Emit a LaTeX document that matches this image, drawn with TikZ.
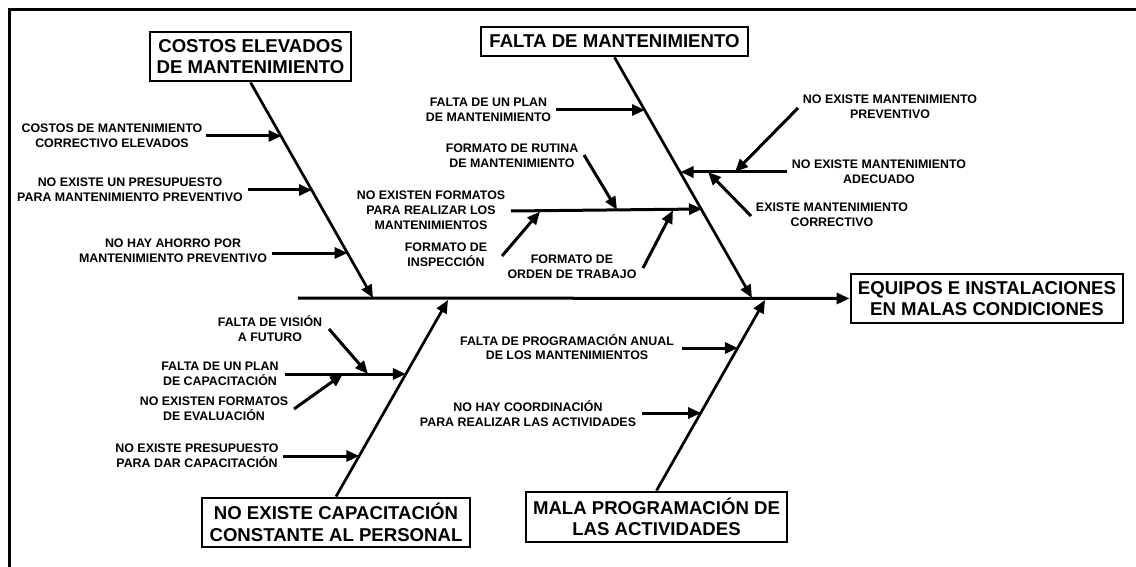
\documentclass[tikz,border=0pt]{standalone}
\usepackage{fontspec}
\setmainfont{Liberation Sans}
\usetikzlibrary{arrows.meta}
\begin{document}
\begin{tikzpicture}[x=1pt,y=-1pt,
  box/.style={draw,line width=2.8pt,inner sep=0pt,align=center,font=\fontsize{18.6}{21.5}\selectfont\bfseries},
  lbl/.style={inner sep=0pt,align=center,font=\fontsize{12.4}{14.8}\selectfont\bfseries},
  bone/.style={line width=2.7pt,-{Triangle[length=13pt,width=11pt]}},
  sub/.style={line width=3pt,-{Triangle[length=13pt,width=11pt]}},
  frame/.style={line width=2.8pt}]
\useasboundingbox (0,0) rectangle (1136,567);
\fill[white] (0,0) rectangle (1136,567);
% frame
\coordinate (f1) at (9.3,567);
\coordinate (f2) at (9.3,9.3);
\coordinate (f3) at (1136,9.3);
\draw[frame] (f1) -- (f2) -- (f3);

% boxes
\node[box,minimum width=201pt,minimum height=49pt] (c1) at (250.5,56.5) {COSTOS ELEVADOS\\DE MANTENIMIENTO};
\node[box,minimum width=267pt,minimum height=29pt] (c2) at (614.5,41.5) {FALTA DE MANTENIMIENTO};
\node[box,minimum width=272pt,minimum height=49pt] (eff) at (987,298.5) {EQUIPOS E INSTALACIONES\\EN MALAS CONDICIONES};
\node[box,minimum width=268pt,minimum height=49pt] (c3) at (336,522.5) {NO EXISTE CAPACITACIÓN\\CONSTANTE AL PERSONAL};
\node[box,minimum width=261pt,minimum height=50pt] (c4) at (656.5,517) {MALA PROGRAMACIÓN DE\\LAS ACTIVIDADES};

% spine and bones
\coordinate (s0) at (298,298);
\draw[bone,line width=3pt] (s0) -- (eff.west);
\coordinate (t1) at (373,298);
\coordinate (t2) at (752,298);
\coordinate (t3) at (448,300);
\coordinate (t4) at (765,300);
\draw[bone] (c1.south) -- (t1);
\draw[bone] (c2.south) -- (t2);
\draw[bone] (c3.north) -- (t3);
\draw[bone] (c4.north) -- (t4);

% labels
\node[lbl] (l1) at (112,135.5) {COSTOS DE MANTENIMIENTO\\CORRECTIVO ELEVADOS};
\node[lbl] (l2) at (130,190) {NO EXISTE UN PRESUPUESTO\\PARA MANTENIMIENTO PREVENTIVO};
\node[lbl] (l3) at (173,250.5) {NO HAY AHORRO POR\\MANTENIMIENTO PREVENTIVO};
\node[lbl] (l4) at (488.5,110) {FALTA DE UN PLAN\\DE MANTENIMIENTO};
\node[lbl] (l5) at (512,155.5) {FORMATO DE RUTINA\\DE MANTENIMIENTO};
\node[lbl] (l6) at (431,210.5) {NO EXISTEN FORMATOS\\PARA REALIZAR LOS\\MANTENIMIENTOS};
\node[lbl] (l7) at (446,254.5) {FORMATO DE\\INSPECCIÓN};
\node[lbl] (l8) at (572,266.5) {FORMATO DE\\ORDEN DE TRABAJO};
\node[lbl] (l9) at (890,106.5) {NO EXISTE MANTENIMIENTO\\PREVENTIVO};
\node[lbl] (l10) at (879,171.5) {NO EXISTE MANTENIMIENTO\\ADECUADO};
\node[lbl] (l11) at (832,214.5) {EXISTE MANTENIMIENTO\\CORRECTIVO};
\node[lbl] (l12) at (270,328.5) {FALTA DE VISIÓN\\A FUTURO};
\node[lbl] (l13) at (220,373.5) {FALTA DE UN PLAN\\DE CAPACITACIÓN};
\node[lbl] (l14) at (214,408.5) {NO EXISTEN FORMATOS\\DE EVALUACIÓN};
\node[lbl] (l15) at (197,456) {NO EXISTE PRESUPUESTO\\PARA DAR CAPACITACIÓN};
\node[lbl] (l16) at (567,347) {FALTA DE PROGRAMACIÓN ANUAL\\DE LOS MANTENIMIENTOS};
\node[lbl] (l17) at (528,413.5) {NO HAY COORDINACIÓN\\PARA REALIZAR LAS ACTIVIDADES};

% arrow start points (free ends) and tips
\coordinate (a1) at (206,136);   \coordinate (b1) at (281.5,136);
\coordinate (a2) at (248,190);   \coordinate (b2) at (312,190);
\coordinate (a3) at (272,253);   \coordinate (b3) at (347.6,253);
\coordinate (a4) at (556,110);   \coordinate (b4) at (645,110);
\coordinate (a6) at (511,211);   \coordinate (b6) at (702,209);
\coordinate (a5) at (584,155);   \coordinate (b5) at (617,209.8);
\coordinate (a7) at (502,256);   \coordinate (b7) at (540,211.5);
\coordinate (a8) at (643,268);   \coordinate (b8) at (673,210.3);
\coordinate (a10) at (787,172);  \coordinate (b10) at (680.5,172);
\coordinate (a9) at (798,108);   \coordinate (b9) at (735,172);
\coordinate (a11) at (751,216);  \coordinate (b11) at (708,172);
\coordinate (a13) at (285,374);  \coordinate (b13) at (405.9,374);
\coordinate (a12) at (329,329);  \coordinate (b12) at (368,374);
\coordinate (a14) at (294,409);  \coordinate (b14) at (343,374);
\coordinate (a15) at (283,456);  \coordinate (b15) at (359.3,456);
\coordinate (a16) at (682,348);  \coordinate (b16) at (737.9,348);
\coordinate (a17) at (642,413);  \coordinate (b17) at (701.1,413);

\foreach \i in {1,2,3,4,6,5,7,8,10,9,11,13,12,14,15,16,17}
  \draw[sub] (a\i) -- (b\i);
\end{tikzpicture}
\end{document}
